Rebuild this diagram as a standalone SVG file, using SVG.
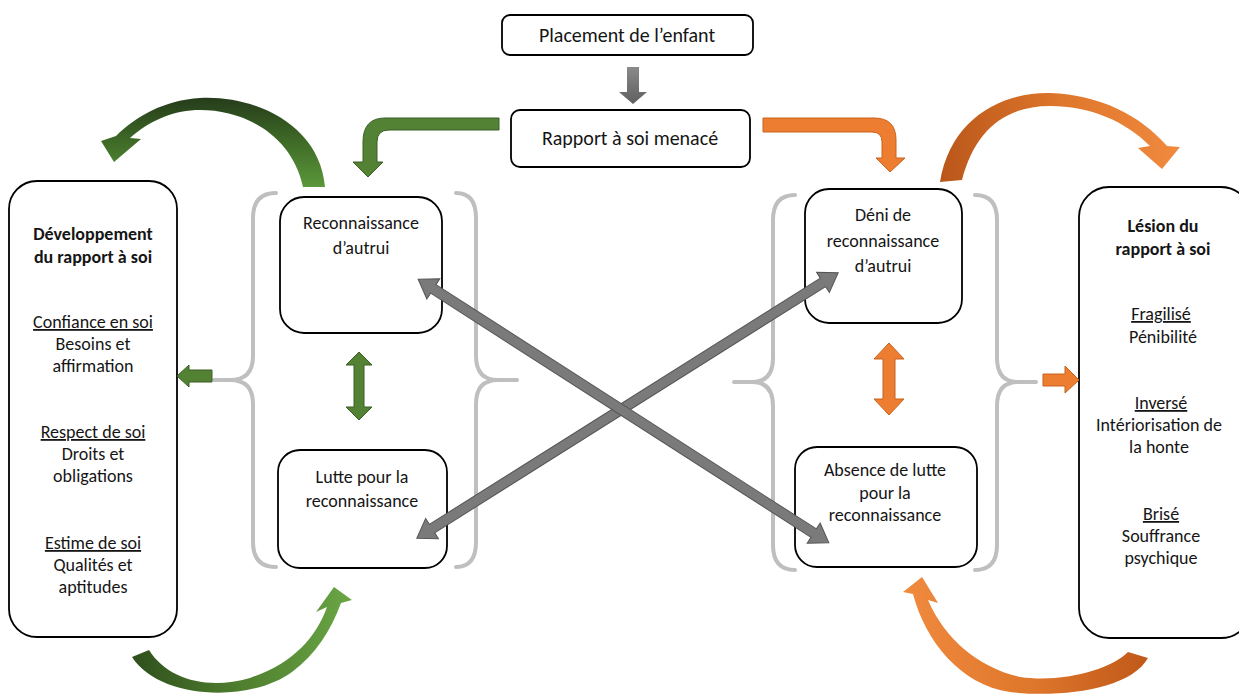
<svg xmlns="http://www.w3.org/2000/svg" width="1239" height="694" viewBox="0 0 1239 694">
<defs>
<style>
.box{fill:#fff;stroke:#000;stroke-width:1.8}
.t{font-family:Carlito,Lato,"Liberation Sans",sans-serif;font-size:18px;fill:#151515;text-anchor:middle}
.big{font-size:20px}
.b{font-weight:bold}
.u{text-decoration:underline}
.brace{fill:none;stroke:#bfbfbf;stroke-width:4;stroke-linecap:round;stroke-linejoin:round}
.grn{fill:#548235;stroke:#3b5e25;stroke-width:1}
.org{fill:#ed7d31;stroke:#c9631c;stroke-width:1}
.gry{fill:#7a7a7a;stroke:#555;stroke-width:1}
</style>
<linearGradient id="gTop" x1="0" y1="95" x2="0" y2="190" gradientUnits="userSpaceOnUse">
<stop offset="0" stop-color="#24391a"/><stop offset="0.5" stop-color="#3f6b27"/><stop offset="1" stop-color="#5d9a3c"/>
</linearGradient>
<linearGradient id="gG2" x1="0" y1="0" x2="1" y2="0">
<stop offset="0" stop-color="#2f4f1c"/><stop offset="0.5" stop-color="#4f7f2f"/><stop offset="1" stop-color="#6aa645"/>
</linearGradient>
<linearGradient id="gO" x1="0" y1="0" x2="1" y2="0">
<stop offset="0" stop-color="#b9561a"/><stop offset="0.5" stop-color="#de762b"/><stop offset="1" stop-color="#f08a3e"/>
</linearGradient>
<linearGradient id="gO2" x1="0" y1="0" x2="1" y2="0">
<stop offset="0" stop-color="#f08a3e"/><stop offset="0.5" stop-color="#e0782c"/><stop offset="1" stop-color="#c0581a"/>
</linearGradient>
<linearGradient id="gGray" x1="0" y1="0" x2="0" y2="1">
<stop offset="0" stop-color="#8a8a8a"/><stop offset="1" stop-color="#5f5f5f"/>
</linearGradient>
</defs>

<g id="placement">
<rect class="box" x="502" y="15" width="251" height="40" rx="8"/>
<text class="t big" x="627" y="42">Placement de l’enfant</text>
</g>
<g id="rapport">
<rect class="box" x="511" y="110" width="239" height="57" rx="9"/>
<text class="t big" x="630" y="145">Rapport à soi menacé</text>
</g>
<g id="developpement">
<rect class="box" x="9" y="181" width="168" height="456" rx="28"/>
<text class="t b" x="93" y="240">Développement</text>
<text class="t b" x="93" y="263">du rapport à soi</text>
<text class="t u" x="93" y="328">Confiance en soi</text>
<text class="t" x="93" y="350">Besoins et</text>
<text class="t" x="93" y="372">affirmation</text>
<text class="t u" x="93" y="438">Respect de soi</text>
<text class="t" x="93" y="460">Droits et</text>
<text class="t" x="93" y="482">obligations</text>
<text class="t u" x="93" y="549">Estime de soi</text>
<text class="t" x="93" y="571">Qualités et</text>
<text class="t" x="93" y="593">aptitudes</text>
</g>
<g id="reconnaissance">
<rect class="box" x="280" y="197" width="162" height="136" rx="24"/>
<text class="t" x="361" y="229">Reconnaissance</text>
<text class="t" x="361" y="254">d’autrui</text>
</g>
<g id="lutte">
<rect class="box" x="278" y="450" width="169" height="118" rx="22"/>
<text class="t" x="362" y="483">Lutte pour la</text>
<text class="t" x="362" y="507">reconnaissance</text>
</g>
<g id="deni">
<rect class="box" x="805" y="189" width="157" height="134" rx="24"/>
<text class="t" x="883" y="221">Déni de</text>
<text class="t" x="883" y="247">reconnaissance</text>
<text class="t" x="883" y="272">d’autrui</text>
</g>
<g id="absence">
<rect class="box" x="795" y="447" width="182" height="120" rx="22"/>
<text class="t" x="885" y="476">Absence de lutte</text>
<text class="t" x="885" y="499">pour la</text>
<text class="t" x="885" y="521">reconnaissance</text>
</g>
<g id="lesion">
<rect class="box" x="1079" y="187" width="172" height="451" rx="30"/>
<text class="t b" x="1163" y="232">Lésion du</text>
<text class="t b" x="1163" y="255">rapport à soi</text>
<text class="t u" x="1161" y="320">Fragilisé</text>
<text class="t" x="1163" y="343">Pénibilité</text>
<text class="t u" x="1161" y="409">Inversé</text>
<text class="t" x="1159" y="431">Intériorisation de</text>
<text class="t" x="1159" y="453">la honte</text>
<text class="t u" x="1161" y="520">Brisé</text>
<text class="t" x="1161" y="542">Souffrance</text>
<text class="t" x="1161" y="564">psychique</text>
</g>

<g id="connectors">
<path fill="url(#gGray)" d="M627 67 L639 67 L639 92 L647 92 L633 104 L619 92 L627 92 Z"/>
<path class="grn" d="M499 118 L385 118 Q363 118 363 142 L363 162 L353 162 L368 177 L383 162 L377 162 L377 142 Q377 130 389 130 L499 130 Z"/>
<path class="org" d="M763 118 L874 118 Q896 118 896 140 L896 158 L905 158 L890 172 L876 158 L882 158 L882 142 Q882 132 872 132 L763 132 Z"/>
<path fill="url(#gTop)" d="M325 187 C320 125 255 95 200 98 C165 100 136 116 116 136 L101 141 L114 162 L141 139 L130 138 C150 120 175 110 200 110 C245 110 292 135 303 187 Z"/>
<path fill="url(#gG2)" d="M132 657 C160 700 250 703 292 672 C316 654 331 630 341 603 L352 600 L334 587 L316 612 L327 607 C316 638 292 664 250 678 C208 690 168 680 149 650 Z"/>
<path fill="url(#gO)" d="M940 182 C950 120 1000 92 1050 93 C1100 95 1140 115 1167 146 L1180 147 L1162 169 L1138 148 L1150 146 C1125 121 1090 106 1050 106 C1005 106 975 130 962 180 Z"/>
<path fill="url(#gO2)" d="M1148 658 C1130 690 1060 698 1010 692 C960 685 925 640 913 594 L903 592 L922 577 L938 603 L928 600 C945 640 980 668 1020 677 C1062 683 1110 670 1128 652 Z"/>
<path class="brace" d="M276 193 Q253 193 253 218 L253 356 Q253 380 230 380 L214 380 M230 380 Q253 380 253 404 L253 542 Q253 567 276 567"/>
<path class="brace" d="M456 193 Q476 193 476 218 L476 356 Q476 380 498 380 L517 380 M498 380 Q476 380 476 404 L476 542 Q476 567 456 567"/>
<path class="brace" d="M795 195 Q773 195 773 220 L773 358 Q773 382 752 382 L734 382 M752 382 Q773 382 773 406 L773 545 Q773 570 795 570"/>
<path class="brace" d="M975 195 Q997 195 997 220 L997 358 Q997 382 1018 382 L1036 382 M1018 382 Q997 382 997 406 L997 545 Q997 570 975 570"/>
<path class="grn" d="M212 370 L189 370 L189 365 L177 376 L189 387 L189 382 L212 382 Z"/>
<path class="org" d="M1043 374 L1065 374 L1065 366 L1079 380 L1065 393 L1065 386 L1043 386 Z"/>
<path class="grn" d="M359 352 L372 365 L364 365 L364 407 L372 407 L359 420 L346 407 L354 407 L354 365 L346 365 Z"/>
<path class="org" d="M889 343 L904 359 L895 359 L895 399 L904 399 L889 415 L874 399 L883 399 L883 359 L874 359 Z"/>
<g transform="translate(627.5 405.5) rotate(-32.2)">
<path class="gry" d="M-249 0 L-231 -12 L-231 -5 L231 -5 L231 -12 L249 0 L231 12 L231 5 L-231 5 L-231 12 Z"/>
</g>
<g transform="translate(623.5 411) rotate(32.7)">
<path class="gry" d="M-244 0 L-226 -12 L-226 -5 L226 -5 L226 -12 L244 0 L226 12 L226 5 L-226 5 L-226 12 Z"/>
</g>
</g>
</svg>
